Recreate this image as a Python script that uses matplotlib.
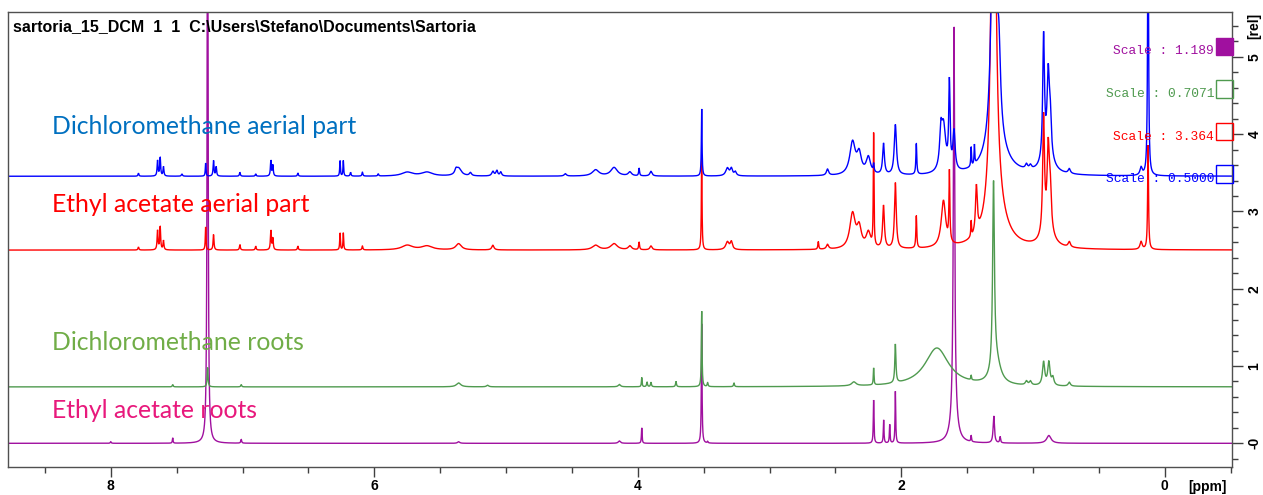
import numpy as np
import matplotlib
matplotlib.use("Agg")
import matplotlib.pyplot as plt
from matplotlib.patches import Rectangle
from matplotlib.ticker import MultipleLocator, FixedLocator, FixedFormatter

# ---------------- data (peak tables) ----------------
# each trace: baseline offset (rel units), peak positions (ppm), heights (rel), half widths (ppm)
blue_offset = 3.455
blue_ppm = [7.79, 7.645, 7.625, 7.60, 7.46, 7.28, 7.22, 7.20, 7.02, 6.90, 6.785, 6.77, 6.58,
            6.26, 6.235, 6.18, 6.09, 5.97, 5.75, 5.60, 5.36, 5.38, 5.27, 5.10, 5.07, 5.04,
            4.55, 4.32, 4.18, 4.06, 3.99, 3.90, 3.515, 3.32, 3.29, 3.26, 2.56, 2.37, 2.32,
            2.25, 2.21, 2.135, 2.045, 1.886, 1.68, 1.70, 1.635, 1.60, 1.47, 1.445, 1.30,
            1.26, 1.28, 1.05, 1.02, 0.92, 0.885, 0.87, 0.89, 0.725, 0.18, 0.127]
blue_height = [0.04, 0.20, 0.24, 0.12, 0.03, 0.17, 0.20, 0.12, 0.05, 0.03, 0.20, 0.14, 0.04,
               0.20, 0.20, 0.05, 0.05, 0.03, 0.05, 0.05, 0.10, 0.05, 0.04, 0.06, 0.07, 0.05,
               0.03, 0.08, 0.11, 0.05, 0.10, 0.06, 0.87, 0.10, 0.09, 0.05, 0.08, 0.42, 0.25,
               0.22, 0.10, 0.40, 0.65, 0.40, 0.60, 0.40, 1.10, 0.50, 0.25, 0.25, 3.50,
               1.00, 0.35, 0.06, 0.05, 1.60, 1.00, 0.50, 0.20, 0.06, 0.10, 4.00]
blue_width = [0.004, 0.004, 0.004, 0.004, 0.005, 0.003, 0.004, 0.004, 0.004, 0.004, 0.004, 0.004, 0.004,
              0.003, 0.003, 0.004, 0.004, 0.004, 0.05, 0.05, 0.025, 0.01, 0.01, 0.01, 0.008, 0.008,
              0.01, 0.03, 0.03, 0.015, 0.004, 0.01, 0.003, 0.015, 0.01, 0.01, 0.01, 0.025, 0.02,
              0.02, 0.004, 0.008, 0.01, 0.004, 0.02, 0.01, 0.006, 0.01, 0.003, 0.003, 0.02,
              0.015, 0.09, 0.01, 0.01, 0.008, 0.01, 0.01, 0.05, 0.01, 0.01, 0.004]

red_offset = 2.50
red_ppm = [7.79, 7.645, 7.625, 7.60, 7.28, 7.22, 7.02, 6.90, 6.785, 6.77, 6.58, 6.26, 6.235,
           6.09, 5.75, 5.60, 5.36, 5.10, 4.32, 4.18, 4.06, 3.99, 3.90, 3.515, 3.32, 3.29,
           2.63, 2.56, 2.37, 2.32, 2.25, 2.21, 2.135, 2.045, 1.886, 1.68, 1.635, 1.47, 1.43,
           1.30, 1.28, 0.92, 0.885, 0.87, 0.89, 0.725, 0.18, 0.127]
red_height = [0.04, 0.25, 0.30, 0.12, 0.30, 0.20, 0.07, 0.05, 0.25, 0.15, 0.05, 0.22, 0.22,
              0.05, 0.06, 0.05, 0.08, 0.06, 0.06, 0.08, 0.05, 0.10, 0.05, 1.20, 0.10, 0.10,
              0.10, 0.06, 0.45, 0.25, 0.20, 1.45, 0.55, 0.85, 0.42, 0.60, 0.90, 0.20, 0.60,
              6.00, 0.40, 1.50, 1.00, 0.50, 0.20, 0.07, 0.10, 1.35]
red_width = [0.004, 0.004, 0.004, 0.004, 0.003, 0.004, 0.004, 0.004, 0.004, 0.004, 0.004, 0.003, 0.003,
             0.004, 0.05, 0.05, 0.025, 0.01, 0.03, 0.03, 0.015, 0.004, 0.01, 0.003, 0.015, 0.01,
             0.004, 0.01, 0.025, 0.02, 0.02, 0.003, 0.008, 0.008, 0.004, 0.02, 0.004, 0.003, 0.008,
             0.02, 0.09, 0.008, 0.01, 0.01, 0.05, 0.01, 0.01, 0.004]

green_offset = 0.73
green_ppm = [7.53, 7.265, 7.01, 5.36, 5.14, 4.14, 3.97, 3.93, 3.90, 3.71, 3.515, 3.47, 3.27,
             2.36, 2.21, 2.045, 1.73, 1.47, 1.30, 1.28, 1.05, 1.02, 0.92, 0.88, 0.85, 0.725]
green_height = [0.03, 0.25, 0.03, 0.05, 0.02, 0.03, 0.12, 0.06, 0.06, 0.07, 0.98, 0.05, 0.05,
                0.05, 0.22, 0.50, 0.50, 0.06, 2.40, 0.30, 0.05, 0.05, 0.30, 0.30, 0.10, 0.05]
green_width = [0.004, 0.004, 0.004, 0.02, 0.01, 0.01, 0.003, 0.004, 0.004, 0.004, 0.003, 0.004, 0.004,
               0.02, 0.003, 0.005, 0.11, 0.003, 0.008, 0.04, 0.01, 0.01, 0.01, 0.01, 0.01, 0.01]

purple_offset = 0.0
purple_ppm = [8.0, 7.53, 7.265, 7.01, 5.36, 4.14, 3.97, 3.515, 3.47, 2.21, 2.134, 2.088, 2.045,
              1.60, 1.60, 1.47, 1.298, 1.25, 0.88]
purple_height = [0.02, 0.07, 9.0, 0.05, 0.02, 0.03, 0.20, 1.55, 0.02, 0.56, 0.30, 0.24, 0.67,
                 5.0, 0.40, 0.08, 0.35, 0.08, 0.10]
purple_width = [0.004, 0.003, 0.004, 0.004, 0.01, 0.01, 0.003, 0.003, 0.004, 0.003, 0.003, 0.003, 0.003,
                0.006, 0.025, 0.003, 0.006, 0.004, 0.02]

series_names = ["Dichloromethane aerial part", "Ethyl acetate aerial part",
                "Dichloromethane roots", "Ethyl acetate roots"]
scale_labels = ["Scale : 1.189", "Scale : 0.7071", "Scale : 3.364", "Scale : 0.5000"]
title_text = "sartoria_15_DCM  1  1  C:\\Users\\Stefano\\Documents\\Sartoria"
x_ticks = [8, 6, 4, 2, 0]
y_ticks = [0, 1, 2, 3, 4, 5]
y_tick_labels = ["-0", "1", "2", "3", "4", "5"]

# ---------------- figure ----------------
W, H = 1263, 495
fig = plt.figure(figsize=(W / 100, H / 100), dpi=100)

def fx(px):
    return px / W

def fy(py):
    return 1 - py / H

ax_l, ax_r, ax_t, ax_b = 8, 1232, 12, 466.5
ax = fig.add_axes([fx(ax_l), fy(ax_b), fx(ax_r - ax_l), (ax_b - ax_t) / H])

xs = np.linspace(8.78, -0.51, 14000)

def spectrum(offset, ppm, height, width):
    y = np.full_like(xs, offset)
    for p, h, g in zip(ppm, height, width):
        y += h * g * g / ((xs - p) ** 2 + g * g)
    return y

line_cols = ["#0000FF", "#FF0000", "#4F9A4F", "#A0109F"]
traces = [
    spectrum(purple_offset, purple_ppm, purple_height, purple_width),
    spectrum(green_offset, green_ppm, green_height, green_width),
    spectrum(red_offset, red_ppm, red_height, red_width),
    spectrum(blue_offset, blue_ppm, blue_height, blue_width),
]
cols_draw = [line_cols[3], line_cols[2], line_cols[1], line_cols[0]]
for y, c in zip(traces, cols_draw):
    ax.plot(xs, y, color=c, lw=1.0, solid_joinstyle="miter")

ax.set_xlim(8.78, -0.51)
ax.set_ylim(-0.30, 5.58)

# spines
for s in ax.spines.values():
    s.set_color("#505050")
    s.set_linewidth(1.0)

# ticks
ax.xaxis.set_major_locator(FixedLocator(x_ticks))
ax.xaxis.set_minor_locator(MultipleLocator(0.5))
ax.yaxis.set_major_locator(FixedLocator(y_ticks))
ax.yaxis.set_major_formatter(FixedFormatter(y_tick_labels))
ax.yaxis.set_minor_locator(MultipleLocator(0.2))
ax.yaxis.tick_right()
ax.tick_params(axis="x", which="major", direction="out", length=7, width=1, color="#404040",
               pad=2, labelsize=10)
ax.tick_params(axis="x", which="minor", direction="out", length=4.5, width=1, color="#404040")
ax.tick_params(axis="y", which="major", direction="out", length=8, width=1, color="#404040",
               pad=3, labelsize=10, labelrotation=90)
ax.tick_params(axis="y", which="minor", direction="out", length=4.5, width=1, color="#404040")
for lab in ax.get_xticklabels() + ax.get_yticklabels():
    lab.set_fontfamily("Liberation Sans")
    lab.set_fontweight("bold")
for lab in ax.get_yticklabels():
    lab.set_verticalalignment("center")

fig.text(fx(1207), fy(487), "[ppm]", ha="center", va="center", fontsize=10,
         fontweight="bold", family="Liberation Sans")
fig.text(fx(1254), fy(26), "[rel]", ha="center", va="center", fontsize=10,
         fontweight="bold", family="Liberation Sans", rotation=90)

# title
fig.text(fx(13), fy(27), title_text, ha="left", va="center", fontsize=11.5,
         fontweight="bold", family="Liberation Sans")

# series labels
label_cols = ["#0070C0", "#FF0000", "#70AD47", "#E8197C"]
label_y = [127, 205, 343, 411]
for name, c, py in zip(series_names, label_cols, label_y):
    fig.text(fx(52), fy(py), name, ha="left", va="center", fontsize=17.8, color=c, family="Lato")

# scale labels and boxes
scale_cols = ["#A0109F", "#4F9A4F", "#FF0000", "#0000FF"]
scale_y = [51.5, 94, 136.5, 179.5]
box_top = [37.5, 80, 122.5, 165]
for lab, c, py, bt in zip(scale_labels, scale_cols, scale_y, box_top):
    fig.text(fx(1214), fy(py), lab, ha="right", va="center", fontsize=9.3, color=c,
             family="Liberation Mono")
    filled = (c == scale_cols[0])
    fig.patches.append(Rectangle((fx(1216), fy(bt + 17.5)), fx(16.5), 17.5 / H,
                                 transform=fig.transFigure, fill=filled,
                                 facecolor=c if filled else "none", edgecolor=c, lw=1.0))

fig.savefig("out.png", dpi=100)
